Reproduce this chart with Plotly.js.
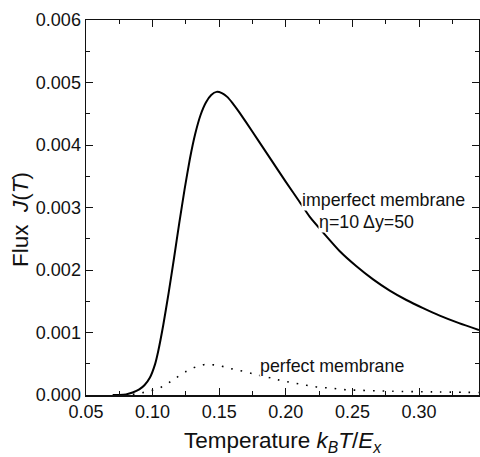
<!DOCTYPE html>
<html>
<head>
<meta charset="utf-8">
<script src="https://cdn.plot.ly/plotly-3.0.1.min.js"></script>
<style>html,body{margin:0;padding:0;background:#fff;}</style>
</head>
<body>
<div id="chart" style="width:480px;height:457px;"></div>
<script>
// Imperfect membrane (eta=10, dy=50)
const imperfectT = [0.070,0.075,0.080,0.085,0.090,0.094,0.098,0.1018,0.1042,0.108,0.112,0.116,0.120,0.124,0.128,0.132,0.136,0.140,0.144,0.148,0.152,0.156,0.160,0.1655,0.170,0.180,0.190,0.200,0.210,0.218,0.230,0.2405,0.253,0.2655,0.278,0.2905,0.303,0.3155,0.330,0.345];
const imperfectJ = [0,0,0.00001,0.00004,0.00009,0.00016,0.00028,0.00049,0.00070,0.00112,0.00163,0.00218,0.00275,0.00329,0.00378,0.00418,0.00448,0.00468,0.00480,0.00485,0.00483,0.00477,0.00467,0.00451,0.00437,0.00405,0.00373,0.00341,0.00310,0.00285,0.00255,0.00230,0.00206,0.00185,0.00167,0.00152,0.00139,0.00127,0.00115,0.00104];
// Perfect membrane
const perfectT = [0.078,0.085,0.091,0.097,0.104,0.111,0.118,0.1255,0.1325,0.1395,0.147,0.154,0.161,0.168,0.175,0.1893,0.1968,0.2043,0.2118,0.2193,0.2268,0.2343,0.2418,0.2493,0.28,0.31,0.345];
const perfectJ = [0,0.00001,0.00003,0.00006,0.00010,0.00018,0.00028,0.00038,0.00045,0.00049,0.00048,0.00045,0.00041,0.00038,0.00034,0.00027,0.00023,0.00020,0.00017,0.00014,0.00012,0.00011,0.00009,0.00008,0.00006,0.00005,0.00004];
const xTickVals = [0.05,0.10,0.15,0.20,0.25,0.30];
const yTickVals = [0,0.001,0.002,0.003,0.004,0.005,0.006];

const FONT = 'Liberation Sans, Arial, Helvetica, sans-serif';

const traces = [
  {x: imperfectT, y: imperfectJ, mode: 'lines', line: {color: '#000', width: 2, shape: 'spline', smoothing: 0.5}, hoverinfo: 'skip'},
  {x: perfectT, y: perfectJ, mode: 'lines', line: {color: '#000', width: 1.6, dash: '1.6px,8px', shape: 'spline', smoothing: 0.6}, hoverinfo: 'skip'}
];

const axisCommon = {
  showline: true, linecolor: '#111', linewidth: 1.5, mirror: 'ticks',
  ticks: 'inside', ticklen: 7, tickwidth: 1, tickcolor: '#111',
  showgrid: false, zeroline: false,
  tickfont: {family: FONT, size: 18, color: '#111'}
};

const layout = {
  width: 480, height: 457,
  margin: {l: 86, r: 1, t: 20, b: 62},
  paper_bgcolor: '#fff', plot_bgcolor: '#fff',
  showlegend: false,
  font: {family: FONT, color: '#111'},
  xaxis: Object.assign({}, axisCommon, {
    range: [0.05, 0.345], tickvals: xTickVals, tickformat: '.2f',
    minor: {dtick: 0.025, tick0: 0.05, ticks: 'inside', ticklen: 4, tickcolor: '#111', tickwidth: 1},
    title: {text: 'Temperature <i>k</i><sub><i>B</i></sub><i>T</i>/<i>E</i><sub><i>x</i></sub>', font: {family: FONT, size: 22.5, color: '#111'}, standoff: 11}
  }),
  yaxis: Object.assign({}, axisCommon, {
    range: [0, 0.006], tickvals: yTickVals, tickformat: '.3f',
    minor: {dtick: 0.0005, tick0: 0, ticks: 'inside', ticklen: 4, tickcolor: '#111', tickwidth: 1}
  }),
  annotations: [
    {x: -0.165, y: 0.467, xref: 'paper', yref: 'paper', text: 'Flux\u00a0\u00a0<i>J</i>(<i>T</i>)', textangle: -90, showarrow: false, xanchor: 'center', yanchor: 'middle', font: {family: FONT, size: 22.5, color: '#111'}},
    {x: 0.2735, y: 0.00312, xref: 'x', yref: 'y', text: 'imperfect membrane', showarrow: false, xanchor: 'center', yanchor: 'middle', font: {family: FONT, size: 17.8, color: '#111'}, bgcolor: '#fff', borderpad: 0},
    {x: 0.2608, y: 0.00277, xref: 'x', yref: 'y', text: '\u03b7=10 \u0394y=50', showarrow: false, xanchor: 'center', yanchor: 'middle', font: {family: FONT, size: 17.8, color: '#111'}, bgcolor: '#fff', borderpad: 0},
    {x: 0.2347, y: 0.000464, xref: 'x', yref: 'y', text: 'perfect membrane', showarrow: false, xanchor: 'center', yanchor: 'middle', font: {family: FONT, size: 17.8, color: '#111'}, bgcolor: '#fff', borderpad: 0}
  ]
};

Plotly.newPlot('chart', traces, layout, {staticPlot: true, displayModeBar: false});
</script>
</body>
</html>
